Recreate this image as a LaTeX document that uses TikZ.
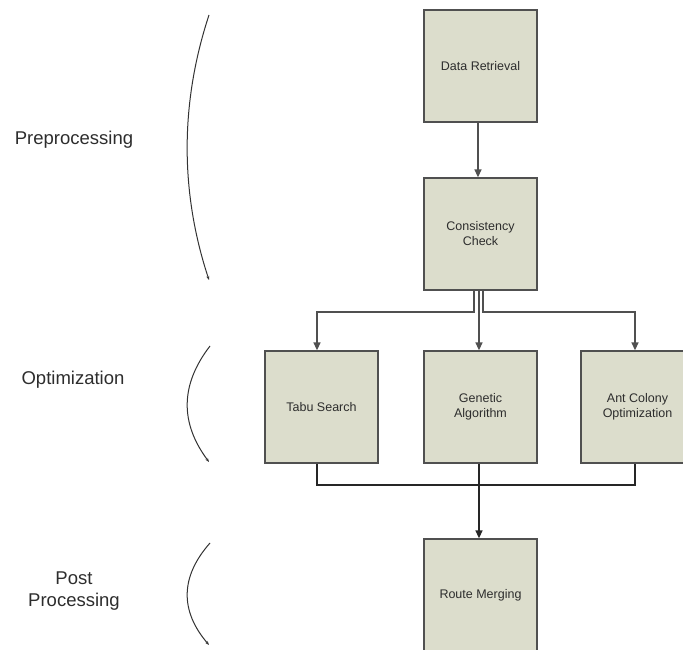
\documentclass[tikz,border=0pt]{standalone}
\usepackage{fontspec}
\setmainfont{Liberation Sans}
\usetikzlibrary{arrows.meta,calc}
\definecolor{boxfill}{RGB}{220,221,204}
\definecolor{boxline}{RGB}{80,80,80}
\definecolor{txt}{RGB}{45,45,45}
\definecolor{wire}{RGB}{80,80,80}
\tikzset{
  stage/.style={draw=boxline, fill=boxfill, line width=1.3pt, minimum width=113pt,
    minimum height=112pt, inner sep=0pt, align=center, text=txt,
    font=\fontsize{12.5}{15}\selectfont},
  phase/.style={text=txt, align=center, font=\fontsize{18.5}{22}\selectfont},
  wirearrow/.style={draw=wire, line width=1.4pt, -{Triangle[length=8pt,width=7pt]}},
  mergeline/.style={draw=black!85, line width=1.3pt},
  brace/.style={draw=black!80, line width=1pt, -{Stealth[length=4pt,width=3pt]}},
}
\begin{document}
\begin{tikzpicture}[x=1pt,y=1pt]
\useasboundingbox (0,0) rectangle (683,650);

% processing stages
\node[stage] (dr)  at (480.5,584) {Data Retrieval};
\node[stage] (cc)  at (480.5,416) {Consistency\\Check};
\node[stage] (ts)  at (321.5,243) {Tabu Search};
\node[stage] (ga)  at (480.5,243) {Genetic\\Algorithm};
\node[stage] (aco) at (637.5,243) {Ant Colony\\Optimization};
\node[stage] (rm)  at (480.5,55)  {Route Merging};

% phase labels
\node[phase] (pre) at (74,510) {Preprocessing};
\node[phase] (opt) at (73,270) {Optimization};
\node[phase] (post) at (74,59) {Post\\Processing};

% sweeping marks beside each phase
\coordinate (preA) at (209,635);  \coordinate (preB) at (209,370);
\coordinate (optA) at (210,304);  \coordinate (optB) at (209,188);
\coordinate (postA) at (210,107); \coordinate (postB) at (209,5);
\draw[brace] (preA) .. controls (180,547) and (180,458) .. (preB);
\draw[brace] (optA) .. controls (180,265) and (180,227) .. (optB);
\draw[brace] (postA) .. controls (180,73) and (180,39) .. (postB);

% preprocessing chain
\draw[wirearrow] ([xshift=-2.5pt]dr.south) -- ([xshift=-2.5pt]cc.north);

% split into the three optimisers
\coordinate (splitL) at ($(cc.south)+(-6.5,0)$);
\coordinate (splitM) at ($(cc.south)+(-1.5,0)$);
\coordinate (splitR) at ($(cc.south)+(2.5,0)$);
\draw[wirearrow] (splitL) |- (317,338) -- ($(ts.north)+(-4.5,0)$);
\draw[wirearrow] (splitM) -- ($(ga.north)+(-1.5,0)$);
\draw[wirearrow] (splitR) |- (635,338) -- ($(aco.north)+(-2.5,0)$);

% merge of the optimiser results
\coordinate (joinL) at ($(ts.south)+(-4.5,0)$);
\coordinate (joinR) at ($(aco.south)+(-2.5,0)$);
\draw[mergeline] (joinL) |- (635,165) -- (joinR);
\draw[wirearrow, draw=black!85, line width=1.5pt] ($(ga.south)+(-1.5,0)$) -- ($(rm.north)+(-1.5,0)$);
\end{tikzpicture}
\end{document}
